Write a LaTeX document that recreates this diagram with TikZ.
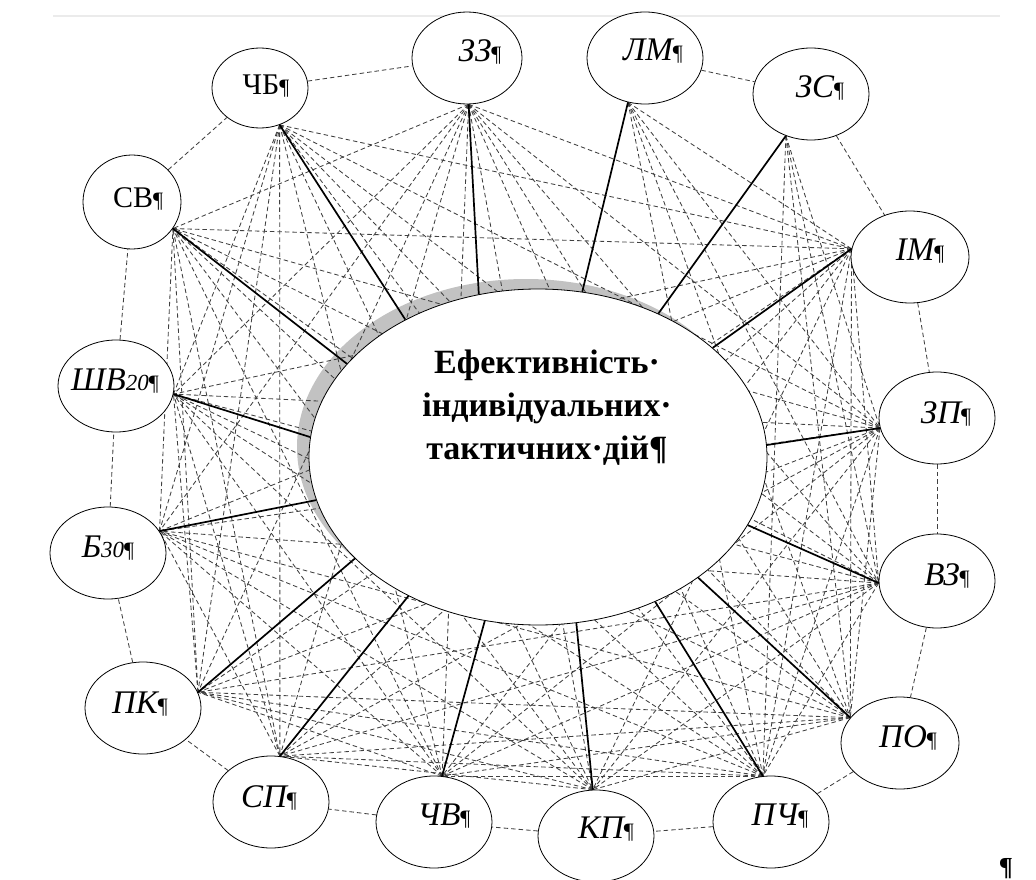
\documentclass[tikz,border=0pt]{standalone}
\usepackage{fontspec}
\setmainfont{Liberation Serif}
\usetikzlibrary{shapes.geometric,backgrounds}

\newcommand{\pil}{{\fontsize{22}{22}\selectfont\upshape ¶}}
\newcommand{\idx}[1]{{\fontsize{23}{23}\selectfont #1}}

\begin{document}
\begin{tikzpicture}[x=1pt,y=-1pt,
  oval/.style={draw,ellipse,fill=white,inner sep=0pt,line width=0.8pt,minimum width=116pt,minimum height=92pt},
  lbl/.style={anchor=base,inner sep=0pt,font=\fontsize{33}{33}\selectfont\itshape},
  web/.style={draw=black!75,dash pattern=on 4.5pt off 3pt,line width=0.85pt},
  tie/.style={line width=1.7pt}]
\useasboundingbox (0,0) rectangle (1036,880);

%Straight Lines (page rule)
\draw [black!8,line width=2pt] (53,16) -- (1000,16) ;

%Shape: Ellipse (centre)
\node [oval,minimum width=458pt,minimum height=336pt] (ctr) at (538,457) {} ;

%Shape: Ellipse
\node [oval,minimum width=96pt,minimum height=80pt] (n0) at (260,88) {} ;
%Shape: Ellipse
\node [oval,minimum width=110pt] (n1) at (467,58) {} ;
%Shape: Ellipse
\node [oval] (n2) at (645,58) {} ;
%Shape: Ellipse
\node [oval] (n3) at (811,94) {} ;
%Shape: Ellipse
\node [oval,minimum width=118pt] (n4) at (910,257) {} ;
%Shape: Ellipse
\node [oval] (n5) at (937,418) {} ;
%Shape: Ellipse
\node [oval,minimum height=94pt] (n6) at (937,581) {} ;
%Shape: Ellipse
\node [oval,minimum width=118pt] (n7) at (900,743) {} ;
%Shape: Ellipse
\node [oval] (n8) at (771,822) {} ;
%Shape: Ellipse
\node [oval] (n9) at (596,836) {} ;
%Shape: Ellipse
\node [oval] (n10) at (434,822) {} ;
%Shape: Ellipse
\node [oval] (n11) at (271,802) {} ;
%Shape: Ellipse
\node [oval] (n12) at (143,708) {} ;
%Shape: Ellipse
\node [oval] (n13) at (108,553) {} ;
%Shape: Ellipse
\node [oval] (n14) at (116,386) {} ;
%Shape: Ellipse
\node [oval,minimum width=98pt,minimum height=94pt] (n15) at (132,202) {} ;

% hubs where the lines meet each ellipse
\foreach \k/\a in {0/-62,1/-88,2/-111,3/-121,4/172,5/190,6/182,7/153,8/100,9/94,10/80,11/79,12/16,13/23,14/-8,15/-33}
  \coordinate (h\k) at (n\k.\a) ;

\begin{pgfonlayer}{background}
%Shape: Ellipse (shadow)
\fill [black!24] (526,447) ellipse [x radius=229, y radius=168] ;
% neighbours
\foreach \a/\b in {0/1,2/3,3/4,4/5,5/6,6/7,7/8,8/9,9/10,10/11,11/12,12/13,13/14,14/15,15/0}
  \draw [web] (n\a) -- (n\b) ;
% web
\foreach \i in {0,...,13}{
  \pgfmathtruncatemacro\js{\i+2}
  \foreach \j in {\js,...,15}{
    \pgfmathtruncatemacro\cut{(\i<4 && \j<4) || (\i==0 && \j==15) || ((\i==2 || \i==3) && \j>8)}
    \ifnum\cut=0 \draw [web] (h\i) -- (h\j) ;\fi
  }
}
\end{pgfonlayer}

%Straight Lines
\foreach \k/\b in {0/134,1/110,2/75,3/50,4/32,5/3,6/-18,7/-37,8/-51,9/-77,10/-108,11/-133,12/-151,13/-169,14/175,15/154}
  \draw [tie] (h\k) -- (ctr.\b) ;

% Text Node
\node [align=center,inner sep=0pt,font=\fontsize{34}{43}\selectfont\bfseries] (tc) at (547,408) {Ефективність·\\індивідуальних·\\тактичних·дій¶} ;
% Text Node
\node [lbl,font=\fontsize{30}{30}\selectfont\upshape] (t0) at (266,95) {ЧБ\pil} ;
% Text Node
\node [lbl] (t1) at (480,62) {ЗЗ\pil} ;
% Text Node
\node [lbl] (t2) at (653,61) {ЛМ\pil} ;
% Text Node
\node [lbl] (t3) at (820,98) {ЗС\pil} ;
% Text Node
\node [lbl] (t4) at (920,260) {ІМ\pil} ;
% Text Node
\node [lbl] (t5) at (946,423) {ЗП\pil} ;
% Text Node
\node [lbl] (t6) at (947,585) {ВЗ\pil} ;
% Text Node
\node [lbl] (t7) at (908,747) {ПО\pil} ;
% Text Node
\node [lbl] (t8) at (780,825) {ПЧ\pil} ;
% Text Node
\node [lbl] (t9) at (606,838) {КП\pil} ;
% Text Node
\node [lbl] (t10) at (444,825) {ЧВ\pil} ;
% Text Node
\node [lbl] (t11) at (269,807) {СП\pil} ;
% Text Node
\node [lbl] (t12) at (140,713) {ПК\pil} ;
% Text Node
\node [lbl] (t13) at (108,557) {Б\idx{30}\pil} ;
% Text Node
\node [lbl] (t14) at (115,390) {ШВ\idx{20}\pil} ;
% Text Node
\node [lbl,font=\fontsize{30}{30}\selectfont\upshape] (t15) at (138,207) {СВ\pil} ;
% Text Node
\node [inner sep=0pt,font=\fontsize{26}{26}\selectfont\bfseries] (pm) at (1006,869) {¶} ;
\end{tikzpicture}
\end{document}
